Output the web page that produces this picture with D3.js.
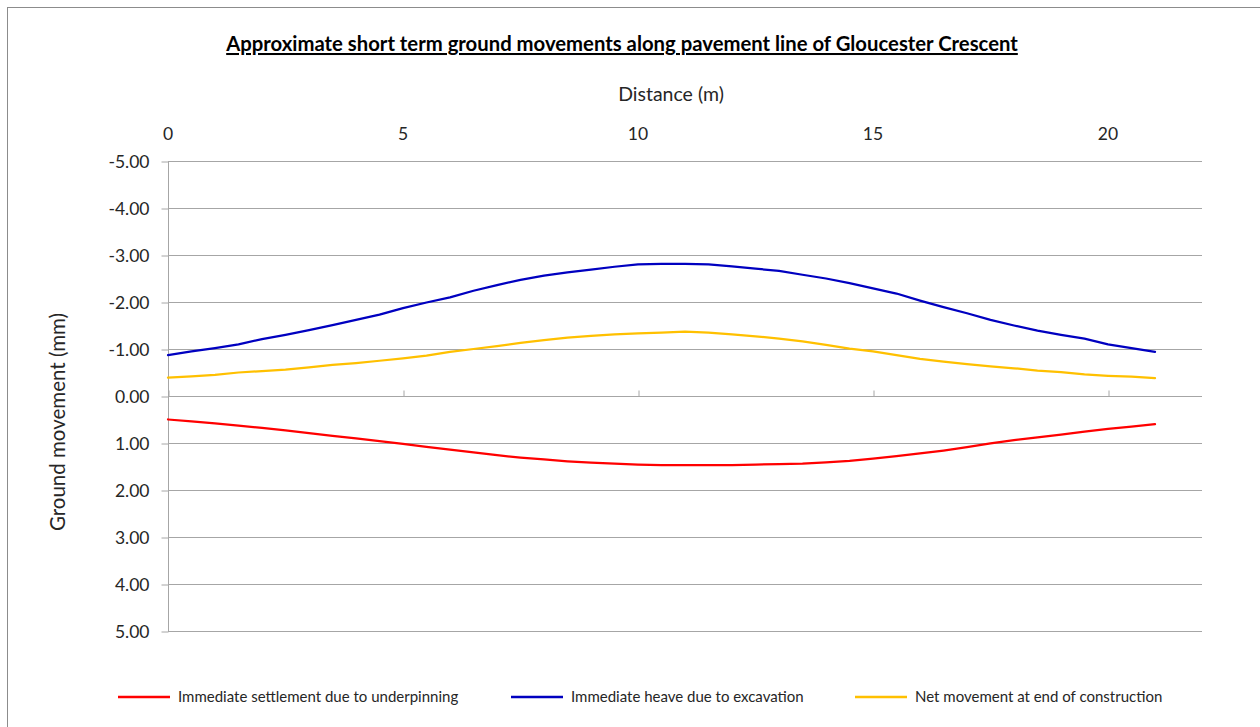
<!DOCTYPE html>
<html>
<head>
<meta charset="utf-8">
<script src="https://cdn.jsdelivr.net/npm/d3@7"></script>
<style>
  html, body { margin: 0; padding: 0; background: #fff; }
  svg { display: block; font-family: Lato, "Open Sans", sans-serif; }
</style>
</head>
<body>
<svg id="chart" width="1260" height="727"></svg>
<script>
// Distance along the pavement line (m)
const distance = [0, 0.5, 1, 1.5, 2, 2.5, 3, 3.5, 4, 4.5, 5, 5.5, 6, 6.5, 7, 7.5, 8, 8.5, 9, 9.5,
  10, 10.5, 11, 11.5, 12, 12.5, 13, 13.5, 14, 14.5, 15, 15.5, 16, 16.5, 17, 17.5, 18, 18.5, 19, 19.5,
  20, 20.5, 21];

// Ground movement (mm), positive = settlement, negative = heave
const settlement = [0.50, 0.54, 0.58, 0.63, 0.68, 0.73, 0.79, 0.85, 0.90, 0.96, 1.02, 1.08, 1.14, 1.20,
  1.26, 1.31, 1.35, 1.39, 1.42, 1.44, 1.46, 1.47, 1.47, 1.47, 1.47, 1.46, 1.45, 1.44, 1.41, 1.38,
  1.33, 1.28, 1.22, 1.16, 1.09, 1.01, 0.94, 0.88, 0.82, 0.76, 0.70, 0.65, 0.60];

const heave = [-0.87, -0.95, -1.02, -1.10, -1.21, -1.30, -1.40, -1.51, -1.62, -1.73, -1.87, -1.99,
  -2.10, -2.24, -2.36, -2.47, -2.56, -2.63, -2.69, -2.75, -2.80, -2.81, -2.81, -2.80, -2.76, -2.71,
  -2.66, -2.58, -2.50, -2.40, -2.29, -2.18, -2.03, -1.89, -1.76, -1.62, -1.50, -1.39, -1.30, -1.22,
  -1.10, -1.02, -0.94];

const net = [-0.39, -0.42, -0.45, -0.50, -0.53, -0.56, -0.61, -0.66, -0.70, -0.75, -0.80, -0.86,
  -0.94, -1.00, -1.06, -1.13, -1.19, -1.24, -1.28, -1.31, -1.33, -1.35, -1.37, -1.35, -1.31, -1.27,
  -1.22, -1.16, -1.09, -1.01, -0.95, -0.87, -0.79, -0.73, -0.68, -0.63, -0.59, -0.54, -0.51, -0.46,
  -0.43, -0.41, -0.38];

const seriesNames = ["Immediate settlement due to underpinning",
  "Immediate heave due to excavation",
  "Net movement at end of construction"];
const seriesColors = ["#ff0000", "#0000c0", "#ffc000"];

const xTicks = [0, 5, 10, 15, 20];
const yTicks = [-5, -4, -3, -2, -1, 0, 1, 2, 3, 4, 5];

const titleText = "Approximate short term ground movements along pavement line of Gloucester Crescent";
const xTitle = "Distance (m)";
const yTitle = "Ground movement (mm)";

const svg = d3.select("#chart");
const gridColor = "#a6a6a6";
const textColor = "#262626";

// outer chart frame
svg.append("rect")
  .attr("x", 7.5).attr("y", 7.5)
  .attr("width", 1400).attr("height", 900)
  .attr("fill", "#fff").attr("stroke", "#8c8c8c").attr("stroke-width", 1);

const plot = { left: 168, right: 1202, top: 161, bottom: 631 };

const x = d3.scaleLinear().domain([0, 22]).range([plot.left, plot.right]);
// reversed: heave (negative) plotted upward
const y = d3.scaleLinear().domain([-5, 5]).range([plot.top, plot.bottom]);

// horizontal gridlines
svg.append("g")
  .selectAll("line")
  .data(yTicks)
  .join("line")
  .attr("x1", plot.left).attr("x2", plot.right)
  .attr("y1", d => Math.round(y(d)) + 0.5).attr("y2", d => Math.round(y(d)) + 0.5)
  .attr("stroke", gridColor).attr("stroke-width", 1);

// y axis (left), plain hyphen for negatives
const fmt = d3.format(".2f");
const yAxis = d3.axisLeft(y)
  .tickValues(yTicks)
  .tickSize(7)
  .tickPadding(12)
  .tickFormat(d => fmt(d).replace("\u2212", "-"));
const gy = svg.append("g")
  .attr("transform", `translate(${plot.left + 0.5},0.5)`)
  .call(yAxis);
gy.select(".domain").attr("stroke", gridColor).attr("d", `M0,${y(-5)}V${y(5)}`);
gy.selectAll(".tick line").attr("stroke", gridColor);
gy.selectAll(".tick text")
  .attr("fill", textColor)
  .style("font-size", "17.5px")
  .style("font-family", "Lato, sans-serif");

// x axis line at zero with ticks pointing up, labels at the top of the plot
const gx = svg.append("g")
  .attr("transform", `translate(0.5,${Math.round(y(0)) + 0.5})`)
  .call(d3.axisTop(x).tickValues(xTicks).tickSize(6).tickFormat(""));
gx.select(".domain").remove();
gx.selectAll(".tick line").attr("stroke", gridColor);

svg.append("g")
  .selectAll("text")
  .data(xTicks)
  .join("text")
  .attr("x", d => x(d))
  .attr("y", 140)
  .attr("text-anchor", "middle")
  .attr("fill", textColor)
  .style("font-size", "17.5px")
  .text(d => d);

// series lines
const allSeries = [settlement, heave, net];
const line = d3.line()
  .x((d, i) => x(distance[i]))
  .y(d => y(d));

svg.append("g")
  .selectAll("path")
  .data(allSeries)
  .join("path")
  .attr("d", d => line(d))
  .attr("fill", "none")
  .attr("stroke", (d, i) => seriesColors[i])
  .attr("stroke-width", 2.25)
  .attr("stroke-linejoin", "round")
  .attr("stroke-linecap", "round");

// title
svg.append("text")
  .attr("x", 622)
  .attr("y", 51)
  .attr("text-anchor", "middle")
  .attr("fill", "#000")
  .style("font-size", "20.3px")
  .style("font-weight", "bold")
  .style("text-decoration", "underline")
  .text(titleText);

// axis titles
svg.append("text")
  .attr("x", 671)
  .attr("y", 101)
  .attr("text-anchor", "middle")
  .attr("fill", textColor)
  .style("font-size", "19.5px")
  .text(xTitle);

svg.append("text")
  .attr("transform", "translate(65,422) rotate(-90)")
  .attr("text-anchor", "middle")
  .attr("fill", textColor)
  .style("font-size", "20.5px")
  .text(yTitle);

// legend
const legendX = [118, 511, 855];
const legend = svg.append("g")
  .selectAll("g")
  .data(seriesNames)
  .join("g")
  .attr("transform", (d, i) => `translate(${legendX[i]},697)`);
legend.append("line")
  .attr("x1", 0).attr("x2", 52)
  .attr("y1", 0).attr("y2", 0)
  .attr("stroke", (d, i) => seriesColors[i])
  .attr("stroke-width", 2.5);
legend.append("text")
  .attr("x", 60)
  .attr("y", 5)
  .attr("fill", textColor)
  .style("font-size", "15px")
  .text(d => d);
</script>
</body>
</html>
